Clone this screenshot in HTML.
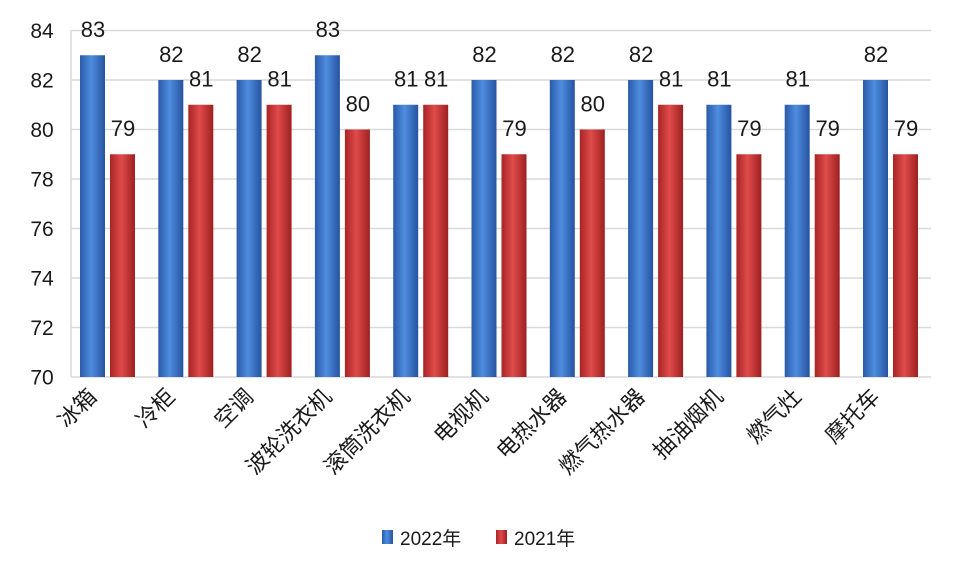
<!DOCTYPE html>
<html><head><meta charset="utf-8"><style>body{margin:0;background:#fff}svg{display:block}text{font-family:"Liberation Sans","Noto Sans CJK SC",sans-serif;fill:#1a1a1a}</style></head><body>
<svg width="960" height="576" viewBox="0 0 960 576" xmlns="http://www.w3.org/2000/svg">
<defs>
<linearGradient id="b" x1="0" x2="1" y1="0" y2="0"><stop offset="0" stop-color="#2a5aa8"/><stop offset="0.45" stop-color="#4f8de0"/><stop offset="1" stop-color="#2653a0"/></linearGradient>
<linearGradient id="r" x1="0" x2="1" y1="0" y2="0"><stop offset="0" stop-color="#a82424"/><stop offset="0.45" stop-color="#e04b4b"/><stop offset="1" stop-color="#9e2020"/></linearGradient>
</defs>
<g stroke="#d9d9d9" stroke-width="1.5">
<line x1="71" x2="931" y1="30.5" y2="30.5"/><line x1="71" x2="931" y1="80" y2="80"/><line x1="71" x2="931" y1="129.5" y2="129.5"/><line x1="71" x2="931" y1="179" y2="179"/><line x1="71" x2="931" y1="228.5" y2="228.5"/><line x1="71" x2="931" y1="278" y2="278"/><line x1="71" x2="931" y1="327.5" y2="327.5"/><line x1="71" x2="931" y1="377" y2="377"/><line x1="71" x2="71" y1="30" y2="377"/>
</g>
<g font-size="21" text-anchor="middle">
<text x="42" y="38">84</text><text x="42" y="87.5">82</text><text x="42" y="137">80</text><text x="42" y="186.5">78</text><text x="42" y="236">76</text><text x="42" y="285.5">74</text><text x="42" y="335">72</text><text x="42" y="384.5">70</text>
</g>
<g font-size="22" text-anchor="middle">
<g transform="translate(108,0)"><rect x="-28" y="55.25" width="25" height="321.75" fill="url(#b)"/><rect x="2" y="154.25" width="25" height="222.75" fill="url(#r)"/><text x="-15" y="37">83</text><text x="15" y="136">79</text><text transform="translate(-10,398) rotate(-45)" font-size="22" text-anchor="end">冰箱</text></g>
<g transform="translate(186.3,0)"><rect x="-28" y="80" width="25" height="297" fill="url(#b)"/><rect x="2" y="104.75" width="25" height="272.25" fill="url(#r)"/><text x="-15" y="62">82</text><text x="15" y="86.5">81</text><text transform="translate(-10,398) rotate(-45)" text-anchor="end">冷柜</text></g>
<g transform="translate(264.6,0)"><rect x="-28" y="80" width="25" height="297" fill="url(#b)"/><rect x="2" y="104.75" width="25" height="272.25" fill="url(#r)"/><text x="-15" y="62">82</text><text x="15" y="86.5">81</text><text transform="translate(-10,398) rotate(-45)" text-anchor="end">空调</text></g>
<g transform="translate(342.9,0)"><rect x="-28" y="55.25" width="25" height="321.75" fill="url(#b)"/><rect x="2" y="129.5" width="25" height="247.5" fill="url(#r)"/><text x="-15" y="37">83</text><text x="15" y="111.5">80</text><text transform="translate(-10,398) rotate(-45)" text-anchor="end">波轮洗衣机</text></g>
<g transform="translate(421.2,0)"><rect x="-28" y="104.75" width="25" height="272.25" fill="url(#b)"/><rect x="2" y="104.75" width="25" height="272.25" fill="url(#r)"/><text x="-15" y="86.5">81</text><text x="15" y="86.5">81</text><text transform="translate(-10,398) rotate(-45)" text-anchor="end">滚筒洗衣机</text></g>
<g transform="translate(499.5,0)"><rect x="-28" y="80" width="25" height="297" fill="url(#b)"/><rect x="2" y="154.25" width="25" height="222.75" fill="url(#r)"/><text x="-15" y="62">82</text><text x="15" y="136">79</text><text transform="translate(-10,398) rotate(-45)" text-anchor="end">电视机</text></g>
<g transform="translate(577.8,0)"><rect x="-28" y="80" width="25" height="297" fill="url(#b)"/><rect x="2" y="129.5" width="25" height="247.5" fill="url(#r)"/><text x="-15" y="62">82</text><text x="15" y="111.5">80</text><text transform="translate(-10,398) rotate(-45)" text-anchor="end">电热水器</text></g>
<g transform="translate(656.1,0)"><rect x="-28" y="80" width="25" height="297" fill="url(#b)"/><rect x="2" y="104.75" width="25" height="272.25" fill="url(#r)"/><text x="-15" y="62">82</text><text x="15" y="86.5">81</text><text transform="translate(-10,398) rotate(-45)" text-anchor="end">燃气热水器</text></g>
<g transform="translate(734.4,0)"><rect x="-28" y="104.75" width="25" height="272.25" fill="url(#b)"/><rect x="2" y="154.25" width="25" height="222.75" fill="url(#r)"/><text x="-15" y="86.5">81</text><text x="15" y="136">79</text><text transform="translate(-10,398) rotate(-45)" text-anchor="end">抽油烟机</text></g>
<g transform="translate(812.7,0)"><rect x="-28" y="104.75" width="25" height="272.25" fill="url(#b)"/><rect x="2" y="154.25" width="25" height="222.75" fill="url(#r)"/><text x="-15" y="86.5">81</text><text x="15" y="136">79</text><text transform="translate(-10,398) rotate(-45)" text-anchor="end">燃气灶</text></g>
<g transform="translate(891,0)"><rect x="-28" y="80" width="25" height="297" fill="url(#b)"/><rect x="2" y="154.25" width="25" height="222.75" fill="url(#r)"/><text x="-15" y="62">82</text><text x="15" y="136">79</text><text transform="translate(-10,398) rotate(-45)" text-anchor="end">摩托车</text></g>
</g>
<rect x="382" y="530" width="11" height="14" fill="url(#b)"/><text x="400" y="545" font-size="19">2022年</text>
<rect x="496" y="530" width="11" height="14" fill="url(#r)"/><text x="514" y="545" font-size="19">2021年</text>
</svg>
</body></html>
